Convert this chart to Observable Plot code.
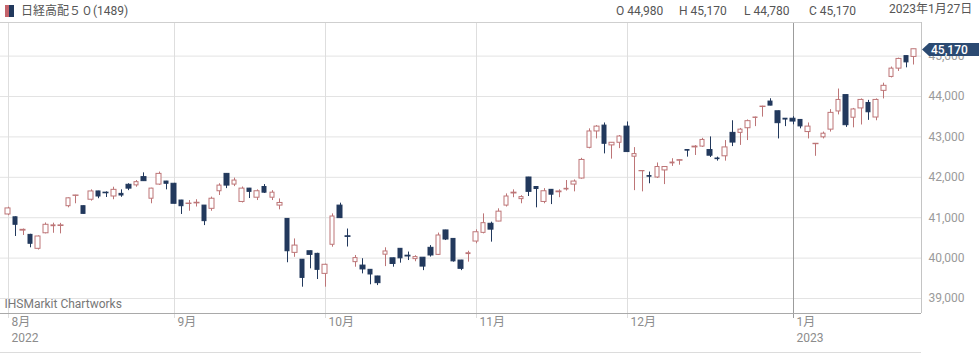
<!DOCTYPE html>
<html><head><meta charset="utf-8">
<script src="https://cdn.jsdelivr.net/npm/d3@7"></script>
<script src="https://cdn.jsdelivr.net/npm/@observablehq/plot@0.6"></script>
<style>
body{margin:0;background:#fff;font-family:Roboto,"Noto Sans CJK JP",sans-serif;}
#hdr{position:relative;height:21px;width:980px;font-size:12px;color:#555;}
#hdr span{position:absolute;top:4px;white-space:nowrap;line-height:14px;}
#hdr .icon{left:5px;top:5px;width:9px;height:12px;background:linear-gradient(to right,#c4636b 0,#c4636b 45%,#22395d 45%,#22395d 100%);}
</style></head><body>
<div id="hdr"></div><div id="chart"></div>
<script>
const title = "日経高配５０(1489)";
const lastDate = "2023年1月27日";
const monthLabels = ["8月","9月","10月","11月","12月","1月"];
const yearLabels = ["2022","","","","","2023"];
const monthStartIdx = [0,22,42,62,82,104];
const yearStartIdx = [104];
const yTicks = [39000,40000,41000,42000,43000,44000,45000];
const watermark = "IHSMarkit Chartworks";

const open = [41080,41010,40680,40575,40230,40615,40790,40795,41285,41540,41285,41445,41650,41620,41525,41590,41815,41800,42005,41470,41820,41895,
41840,41425,41340,41355,41300,41220,41655,42085,41820,41390,41720,41495,41760,41495,41300,40970,40130,39960,40170,40105,
39610,40330,41300,40540,39900,39815,39710,39545,40085,39995,40230,40060,39975,40010,40255,40080,40685,40475,39940,40100,
40410,40625,40850,40905,41300,41600,41460,41995,41760,41390,41690,41630,41700,41820,41970,42730,43135,43280,42790,42855,
43255,42510,42150,42030,41995,42170,42345,42410,42675,42740,42760,42675,42465,42520,43100,43100,43215,43470,43740,43875,43635,43450,
43450,43420,43120,42820,42990,43180,43630,44035,43475,43705,43840,43480,44140,44485,44690,45000,44980];
const high = [41260,41020,40720,40590,40550,40870,40865,40860,41490,41555,41290,41690,41655,41640,41755,41690,41840,41920,42110,41730,42130,41900,
41850,41430,41425,41445,41300,41510,41840,42090,41980,41760,41725,41690,41820,41670,41465,40975,40475,39965,40175,40120,
39850,41095,41360,40720,40065,39985,39715,39550,40255,40000,40235,40150,40060,40015,40310,40620,40690,40480,39945,40170,
40700,41095,40890,41220,41590,41690,41545,42000,41765,41720,41695,41690,41920,41935,42470,43200,43280,43345,42860,43035,
43370,42735,42160,42130,42355,42260,42460,42430,42680,42785,42965,43000,42500,42910,43400,43210,43420,43490,43760,43945,43640,43455,
43500,43430,43345,42835,43120,43675,44185,44040,43705,43940,43905,43940,44330,44730,44950,45005,45170];
const low = [41050,40535,40560,40255,40200,40600,40615,40600,41245,41345,41090,41410,41470,41500,41445,41505,41670,41755,41900,41345,41800,41690,
41340,41080,41160,41265,40805,41160,41550,41720,41770,41365,41475,41425,41600,41425,41195,39885,40020,39280,39735,39470,
39280,40270,40980,40275,39775,39610,39340,39320,39790,39775,39875,39940,39910,39690,40025,40065,40435,39900,39690,39900,
40355,40600,40395,40900,41265,41495,41345,41525,41245,41345,41325,41495,41660,41640,41955,42705,42950,42580,42450,42710,
42620,41670,41640,41840,41970,41820,42270,42300,42500,42540,42740,42490,42400,42400,42760,42790,42910,43255,43490,43770,42950,43255,
43300,43200,42950,42520,42950,43120,43545,43235,43225,43295,43410,43400,43940,44460,44620,44710,44780];
const close = [41230,40825,40700,40355,40535,40825,40810,40810,41480,41550,41095,41650,41525,41605,41690,41550,41720,41880,41905,41720,42085,41840,
41345,41285,41350,41370,40915,41470,41795,41795,41920,41720,41640,41655,41620,41620,41365,40170,40310,39510,40080,39710,
39835,41030,40990,40525,40000,39720,39595,39380,40165,39855,39995,40040,40025,39790,40065,40560,40460,39920,39735,40120,
40640,40865,40705,41150,41525,41620,41510,41640,41710,41655,41570,41650,41715,41895,42430,43135,43255,42830,42855,43010,
42625,42575,42155,42015,42255,42255,42365,42425,42660,42760,42925,42535,42450,42740,42860,43180,43390,43480,43750,43775,43340,43430,
43380,43260,43255,42830,43080,43595,43915,43290,43680,43915,43610,43915,44265,44690,44930,44845,45170];

const xDomain = [-1, open.length];
const yDomain = [38629, 45832];
const UP = "#bd7577", DOWN = "#22395d", TAG = "#2b4a72";
const fmt = v => String(Math.round(v)).replace(/\B(?=(\d{3})+(?!\d))/g, ",");
const n = open.length - 1;

// header
const hdr = document.getElementById("hdr");
function span(txt, left, cls, top) {
  const s = document.createElement("span");
  if (cls) s.className = cls;
  s.textContent = txt; s.style.left = left + "px";
  if (top != null) s.style.top = top + "px";
  hdr.appendChild(s); return s;
}
span("", 5, "icon");
span(title, 21, null);
const ohlcLabels = ["O","H","L","C"];
const ohlcVals = [open[n], high[n], low[n], close[n]];
const ohlcLeft = [616, 679, 744, 809];
ohlcLabels.forEach((l, k) => span(l + " " + fmt(ohlcVals[k]), ohlcLeft[k]));
span(lastDate, 889, null, 2);

const rows = open.map((o, i) => ({i, o, h: high[i], l: low[i], c: close[i], up: close[i] > open[i]}));

const priceTag = (index, scales, values, dim) => {
  if (!scales || typeof scales.y !== "function") return null;
  const v = close[n];
  const y = Math.round(scales.y(v)) + 0.5;
  const x0 = dim.width - dim.marginRight + 1;
  const g = d3.create("svg:g");
  g.append("path")
    .attr("d", `M${x0},${y} L${x0+7},${y-6.5} L${x0+57},${y-6.5} L${x0+57},${y+6.5} L${x0+7},${y+6.5} Z`)
    .attr("fill", TAG);
  g.append("text").attr("x", x0 + 9).attr("y", y).attr("dy", "0.36em")
    .attr("fill", "white").attr("font-size", 12).attr("font-weight", 500)
    .attr("text-anchor", "start")
    .text(fmt(v));
  return g.node();
};

const chart = Plot.plot({
  width: 980, height: 333,
  marginTop: 1, marginBottom: 41, marginLeft: 0, marginRight: 59,
  style: {fontFamily: "Roboto, 'Noto Sans CJK JP', sans-serif", fontSize: "12px", background: "white", color: "#9a9a9a", overflow: "visible"},
  x: {domain: xDomain, axis: null, round: true},
  y: {domain: yDomain, axis: "right", ticks: 7, tickFormat: fmt, tickSize: 0, tickPadding: 7, label: null},
  marks: [
    Plot.ruleY(yTicks, {stroke: "#e3e3e3"}),
    Plot.ruleX(monthStartIdx.filter(d => !yearStartIdx.includes(d)), {x: d => d, stroke: "#dedede", insetBottom: -5}),
    Plot.ruleX(yearStartIdx, {x: d => d, stroke: "#9c9c9c", insetBottom: -5}),
    Plot.ruleY([yDomain[1]], {stroke: "#cfcfcf"}),
    Plot.ruleX([xDomain[1]], {stroke: "#c4c4c4"}),
    Plot.ruleY([yDomain[0]], {stroke: "#a9a9a9"}),
    Plot.ruleY([yDomain[0]], {stroke: "#dcdcdc", dy: 39}),
    Plot.text([watermark], {frameAnchor: "bottom-left", dx: 4, dy: -6, textAnchor: "start", fill: "#777", text: d => d}),
    Plot.text(monthStartIdx, {x: d => d, frameAnchor: "bottom", dy: 12, dx: 3, textAnchor: "start", fill: "#8c8c8c", text: (d, k) => monthLabels[k]}),
    Plot.text(monthStartIdx, {x: d => d, frameAnchor: "bottom", dy: 28, dx: 3, textAnchor: "start", fill: "#8c8c8c", text: (d, k) => yearLabels[k]}),
    Plot.ruleX(rows, {x: "i", y1: "l", y2: "h", stroke: d => d.up ? UP : DOWN}),
    Plot.rect(rows, {x1: d => d.i - 0.3, x2: d => d.i + 0.3, y1: "o", y2: "c", fill: d => d.up ? "white" : DOWN, stroke: d => d.up ? UP : DOWN, strokeWidth: 1}),
    priceTag
  ]
});
document.getElementById("chart").appendChild(chart);
</script>
</body></html>
